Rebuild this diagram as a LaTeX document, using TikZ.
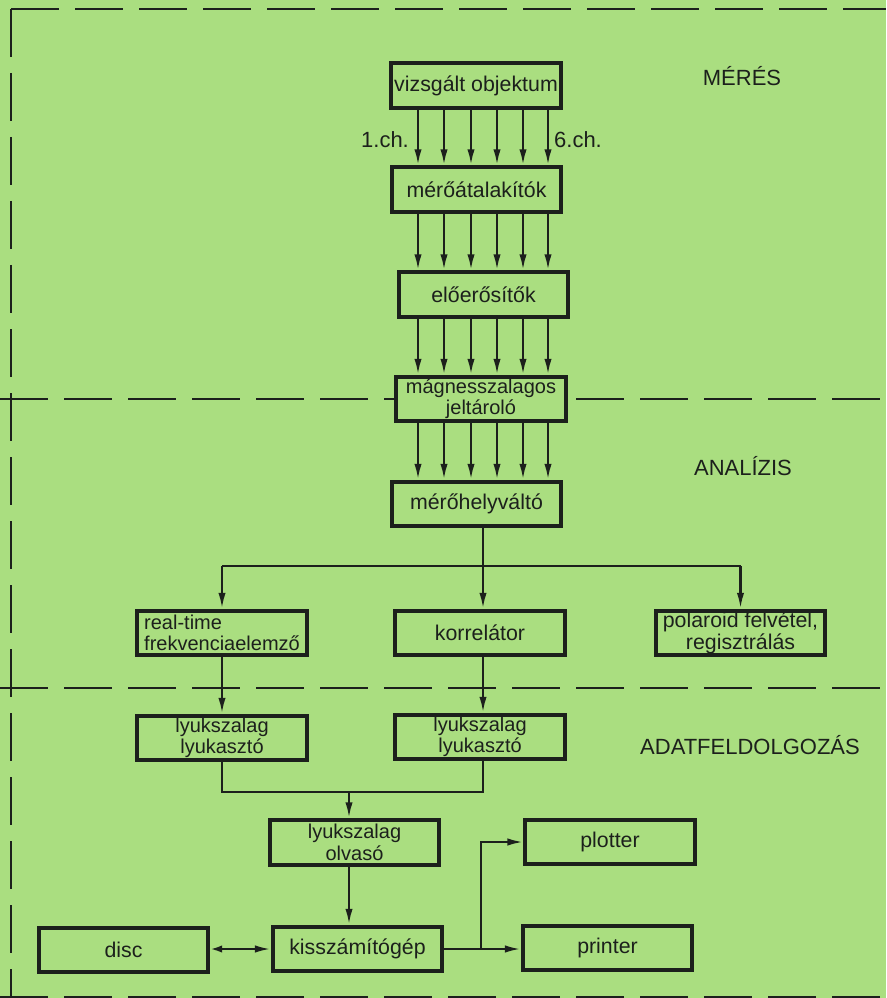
\documentclass[tikz,border=0pt]{standalone}
\usepackage{fontspec}
\setmainfont{Liberation Sans}
\usepackage{tikz}
\usetikzlibrary{positioning, calc, arrows.meta}
\definecolor{lapzold}{RGB}{170,222,128}
\definecolor{tinta}{RGB}{28,32,28}

\begin{document}
\begin{tikzpicture}[x=0.75pt, y=-0.75pt,
               doboz/.style={draw=tinta, line width=2.8pt, fill=lapzold, text=tinta, minimum width=127pt, minimum height=33.5pt, inner sep=1pt, align=center, font=\fontsize{16}{17}\selectfont},
               ketsor/.style={font=\fontsize{15}{16}\selectfont},
               nyil/.style={draw=tinta, line width=1.8pt, -{Latex[length=12pt,width=5.5pt]}},
               nyilketto/.style={draw=tinta, line width=1.8pt, {Latex[length=9pt,width=5.5pt]}-{Latex[length=12pt,width=5.5pt]}},
               vonal/.style={draw=tinta, line width=1.8pt},
               szakasz/.style={draw=tinta, line width=2pt, dash pattern=on 36pt off 12pt},
               felirat/.style={text=tinta, font=\fontsize{16.5}{18}\selectfont}]
               \useasboundingbox (0,0) rectangle (886,998);
               \fill[lapzold] (0,0) rectangle (886,998);
               \draw[szakasz] (11,9)--(886,9);
               \draw[szakasz] (11,9)--(11,998);
               \draw[szakasz] (0,399)--(886,399);
               \draw[szakasz] (0,688)--(886,688);
               \draw[szakasz] (0,997)--(886,997);
               \node[doboz] (obj) at (476,85.5) {vizsgált objektum};
               \node[doboz] (conv) at (476.5,189.5) {mérőátalakítók};
               \node[doboz] (amp) at (483.5,294.5) {előerősítők};
               \node[doboz, ketsor] (tape) at (481,399) {mágnesszalagos\\jeltároló};
               \node[doboz] (swch) at (476.5,504) {mérőhelyváltó};
               \node[doboz, ketsor, align=left] (rt) at (222,633) {real-time\\frekvenciaelemző};
               \node[doboz] (korr) at (480,633) {korrelátor};
               \node[doboz, font=\fontsize{16}{16}\selectfont] (pol) at (740.5,633) {polaroid felvétel,\\regisztrálás};
               \node[doboz, ketsor] (lyuk1) at (222,738) {lyukszalag\\lyukasztó};
               \node[doboz, ketsor] (lyuk2) at (480,737) {lyukszalag\\lyukasztó};
               \node[doboz, ketsor] (read) at (354.5,842.5) {lyukszalag\\olvasó};
               \node[doboz] (plot) at (610,842) {plotter};
               \node[doboz] (disc) at (123.5,950) {disc};
               \node[doboz] (pc) at (357.5,949) {kisszámítógép};
               \node[doboz] (prn) at (607.5,948) {printer};
               \node[felirat] (meres) at (742,76) {MÉRÉS};
               \node[felirat] (anal) at (743,466) {ANALÍZIS};
               \node[felirat] (adat) at (750,745) {ADATFELDOLGOZÁS};
               \node[felirat] (ch1) at (385,140) {1.ch.};
               \node[felirat] (ch6) at (578,140) {6.ch.};
               \foreach \i/\x in {1/418,2/444,3/471,4/497,5/523,6/548}{
                    \coordinate (csat\i) at (\x,0);
                    \draw[nyil] (obj.south -| csat\i)--(conv.north -| csat\i);
                    \draw[nyil] (conv.south -| csat\i)--(amp.north -| csat\i);
                    \draw[nyil] (amp.south -| csat\i)--(tape.north -| csat\i);
                    \draw[nyil] (tape.south -| csat\i)--(swch.north -| csat\i);
               }
               \coordinate (eloszt) at (483,566);
               \draw[vonal] (swch.south -| eloszt)--(eloszt);
               \draw[vonal] (rt.north |- eloszt)--(pol.north |- eloszt);
               \draw[nyil] (rt.north |- eloszt)--(rt.north);
               \draw[nyil] (eloszt)--(eloszt |- korr.north);
               \draw[nyil] (pol.north |- eloszt)--(pol.north);
               \draw[nyil] (rt.south)--(lyuk1.north);
               \draw[nyil] (eloszt |- korr.south)--(eloszt |- lyuk2.north);
               \coordinate (gyujt) at (349,792);
               \draw[vonal] (lyuk1.south) |- (gyujt);
               \draw[vonal] (eloszt |- lyuk2.south) |- (gyujt);
               \draw[nyil] (gyujt)--(gyujt |- read.north);
               \draw[nyil] (gyujt |- read.south)--(gyujt |- pc.north);
               \draw[nyilketto] (pc.west -| disc.east)--(pc.west);
               \coordinate (elagaz) at (481,949);
               \draw[nyil] (pc.east)--(pc.east -| prn.west);
               \draw[nyil] (pc.east -| elagaz) |- (plot.west);
          \end{tikzpicture}
\end{document}
